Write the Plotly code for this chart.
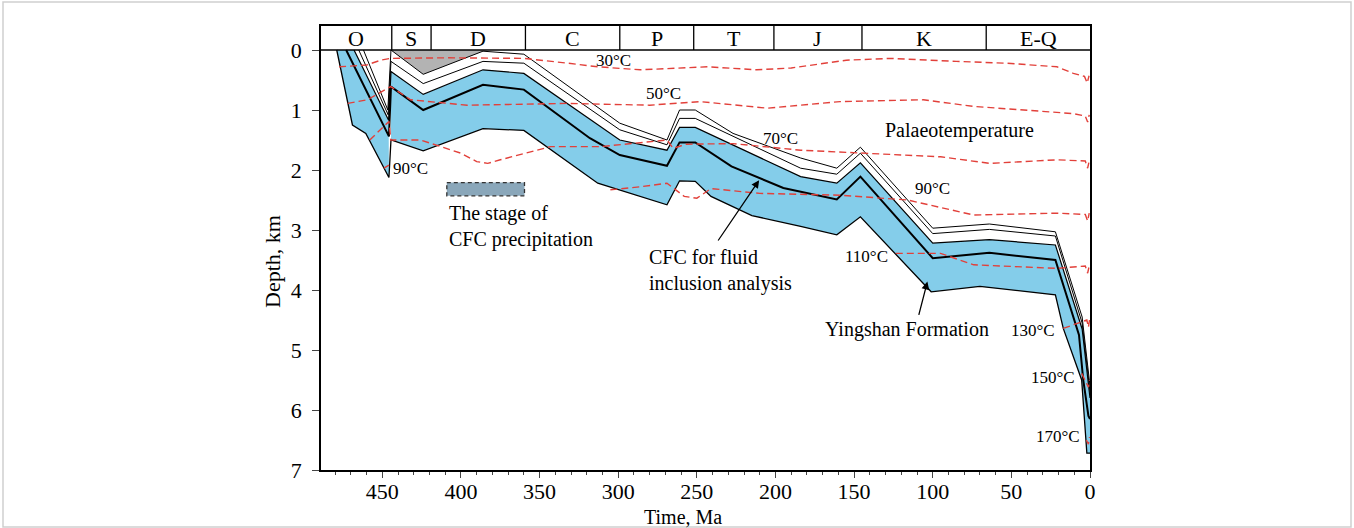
import plotly.graph_objects as go

# ---- geological periods (boundary ages, Ma) ----
period_names = ["O", "S", "D", "C", "P", "T", "J", "K", "E-Q"]
period_bounds = [489, 444, 419, 359, 299, 252, 201, 145, 66, 0]

# ---- burial-history horizons: age (Ma) / depth (km) ----
# Yingshan Formation base
base_o_age = [479, 469, 460.5, 445.8]
base_o_dep = [0.0, 1.25, 1.39, 2.125]
base_s_age = [444.5, 424, 386, 360, 313, 269, 261, 251, 241, 215, 184, 161, 146, 101, 70, 22, 17, 5.3, 2, 0]
base_s_dep = [1.5, 1.68, 1.31, 1.34, 2.22, 2.58, 2.18, 2.19, 2.44, 2.76, 2.94, 3.08, 2.78, 4.03, 3.94, 4.08, 4.64, 5.5, 6.72, 6.72]

# CFC horizon used for fluid inclusion analysis
cfc_o_age = [473, 445.8]
cfc_o_dep = [0.0, 1.44]
cfc_s_age = [444.5, 424, 386, 360, 318, 299, 269, 261, 251, 228, 195, 161, 146, 100, 64, 22, 7, 4.3, 1, 0]
cfc_s_dep = [0.61, 1.0, 0.58, 0.66, 1.47, 1.75, 1.93, 1.54, 1.54, 1.94, 2.3, 2.49, 2.11, 3.47, 3.38, 3.5, 4.75, 5.5, 6.1, 6.15]

# Yingshan Formation top
top_o_age = [468, 446]
top_o_dep = [0.0, 1.17]
top_s_age = [444.5, 424, 386, 360, 299, 269, 261, 251, 184, 161, 146, 100, 64, 22, 5, 0]
top_s_dep = [0.36, 0.74, 0.33, 0.39, 1.5, 1.67, 1.29, 1.29, 2.11, 2.22, 1.88, 3.22, 3.16, 3.25, 4.65, 5.8]

# overlying horizons
h4_o_age = [465, 446.3]
h4_o_dep = [0.0, 1.08]
h4_s_age = [444.5, 424, 386, 360, 299, 269, 261, 251, 184, 161, 146, 100, 64, 22, 5, 0]
h4_s_dep = [0.19, 0.56, 0.19, 0.22, 1.33, 1.58, 1.14, 1.14, 1.97, 2.07, 1.72, 3.06, 2.99, 3.1, 4.55, 5.7]

h5_o_age = [462, 446.5]
h5_o_dep = [0.0, 1.0]
h5_s_age = [444.5, 424, 386, 360, 299, 269, 261, 251, 227, 184, 161, 146, 100, 64, 22, 5, 0]
h5_s_dep = [0.0, 0.405, 0.02, 0.07, 1.22, 1.5, 1.0, 1.0, 1.39, 1.8, 1.97, 1.62, 2.97, 2.9, 3.03, 4.45, 5.6]

# eroded section (grey)
eroded_age = [444.5, 424, 386, 383]
eroded_dep = [0.0, 0.405, 0.02, 0.0]

# ---- palaeotemperature isotherms ----
iso_labels = ["30°C", "50°C", "70°C", "90°C", "110°C", "130°C", "150°C", "170°C"]
iso_age = [
    [477.5, 460, 451, 445, 408, 360, 332, 313, 286, 265, 243, 212, 190, 155, 127, 85, 53, 21, 10.6, 3.5, 1.8, 0.6],
    [472, 459.6, 444.7, 432, 396, 362, 332, 280, 248, 205, 159, 106, 74, 10.6, 3, 1.5, 0.5],
    [458, 445.8, 444.6, 425.7, 400, 390, 383, 375, 343, 311, 269, 265, 257, 227, 184, 95, 63.5, 21, 3, 1.5, 0.5],
    [449, 445.8, None, 305, 286, 269, 258, 250, 241, 210, 159, 116, 74, 21, 3, 1.5, 0.5],
    [123.5, 95, 74, 21, 3, 1.5, 0.5],
    [17, 5, 2, 1, 0.3],
    [5.3, 2, 1, 0.3],
    [2.3, 1, 0.3],
]
iso_dep = [
    [0.28, 0.25, 0.17, 0.14, 0.13, 0.14, 0.22, 0.28, 0.33, 0.31, 0.28, 0.33, 0.3, 0.17, 0.14, 0.19, 0.22, 0.28, 0.39, 0.44, 0.55, 0.43],
    [0.89, 0.83, 0.61, 0.83, 0.92, 0.9, 0.89, 0.92, 0.86, 0.97, 0.86, 0.83, 0.94, 1.06, 1.1, 1.2, 1.08],
    [1.5, 1.19, 1.5, 1.5, 1.72, 1.86, 1.89, 1.83, 1.61, 1.61, 1.5, 1.64, 1.57, 1.56, 1.67, 1.78, 1.89, 1.83, 1.85, 1.97, 1.85],
    [1.97, 1.92, None, 2.33, 2.28, 2.22, 2.44, 2.47, 2.31, 2.39, 2.42, 2.5, 2.75, 2.72, 2.74, 2.85, 2.72],
    [3.39, 3.39, 3.58, 3.64, 3.6, 3.72, 3.6],
    [4.64, 4.53, 4.5, 4.62, 4.5],
    [5.39, 5.55, 5.62, 5.5],
    [6.5, 6.57, 6.45],
]
# label positions (age, depth)
iso_lab_age = [303, 271.3, 197, 100.4, 142.3, 36.5, 23.5, 20.6]
iso_lab_dep = [0.18, 0.72, 1.48, 2.3, 3.44, 4.68, 5.46, 6.44]

# stage of CFC precipitation (age span, Ma)
cfc_stage_age = [409, 359.6]
cfc_stage_dep = [2.21, 2.43]

BLUE = "#84cdea"
GREY = "#b3b3b3"
RED = "#e2403a"
FONT = "Liberation Serif"

fig = go.Figure()


def poly(upper_a, upper_d, lower_a, lower_d, color):
    fig.add_trace(go.Scatter(
        x=list(upper_a) + list(lower_a)[::-1],
        y=list(upper_d) + list(lower_d)[::-1],
        fill="toself", fillcolor=color, mode="none",
        hoverinfo="skip", showlegend=False))


def line(a, d, width, color="black", dash=None):
    fig.add_trace(go.Scatter(
        x=a, y=d, mode="lines",
        line=dict(color=color, width=width, dash=dash),
        hoverinfo="skip", showlegend=False, connectgaps=False))


# fills
poly(eroded_age, eroded_dep, [], [], GREY)
poly(base_o_age, base_o_dep, top_o_age, top_o_dep, BLUE)
poly(base_s_age, base_s_dep, top_s_age, top_s_dep, BLUE)

# horizon lines (Ordovician part joined to the post-uplift part)
line(h5_o_age + h5_s_age, h5_o_dep + h5_s_dep, 1.0)
line(h4_o_age + h4_s_age, h4_o_dep + h4_s_dep, 1.0)
line(top_o_age + top_s_age, top_o_dep + top_s_dep, 1.2)
line(base_o_age + base_s_age, base_o_dep + base_s_dep, 1.3)
line(cfc_o_age + cfc_s_age, cfc_o_dep + cfc_s_dep, 2.0)

# isotherms
for a, d in zip(iso_age, iso_dep):
    line(a, d, 1.4, RED, "7px,4px")

# period header
fig.add_shape(type="line", x0=period_bounds[0], x1=period_bounds[-1], y0=0, y1=0,
              line=dict(color="black", width=1.5))
for b in period_bounds[1:-1]:
    fig.add_shape(type="line", x0=b, x1=b, y0=-0.4, y1=0, line=dict(color="black", width=1.3))
for name, b0, b1 in zip(period_names, period_bounds[:-1], period_bounds[1:]):
    fig.add_annotation(x=(b0 + b1) / 2, y=-0.2, text=name, showarrow=False,
                       font=dict(family=FONT, size=22, color="black"))

# CFC precipitation stage box
fig.add_shape(type="rect", x0=cfc_stage_age[0], x1=cfc_stage_age[1],
              y0=cfc_stage_dep[0], y1=cfc_stage_dep[1],
              fillcolor="#8aa7ba", line=dict(color="#333333", width=1.3, dash="4px,3px"))

# isotherm labels
lf = dict(family=FONT, size=17, color="black")
for t, a, d in zip(iso_labels, iso_lab_age, iso_lab_dep):
    fig.add_annotation(x=a, y=d, text=t, showarrow=False, font=lf)
fig.add_annotation(x=432, y=1.98, text="90°C", showarrow=False, font=lf)

# descriptive text
tf = dict(family=FONT, size=20, color="black")
text_blocks = [
    ("Palaeotemperature", 83.2, 1.34, "center"),
    ("The stage of<br>CFC precipitation", 409.1, 2.94, "left"),
    ("CFC for fluid<br>inclusion analysis", 281.5, 3.67, "left"),
    ("Yingshan Formation", 116.5, 4.66, "center"),
]
for t, a, d, anchor in text_blocks:
    fig.add_annotation(x=a, y=d, text=t, showarrow=False, font=tf,
                       xanchor=anchor, yanchor="middle", align="left")

# pointer arrows
fig.add_annotation(x=210.4, y=2.17, ax=237.1, ay=3.2, axref="x", ayref="y",
                   showarrow=True, arrowhead=2, arrowsize=1.2, arrowwidth=1.3, arrowcolor="black", text="")
fig.add_annotation(x=103.4, y=3.86, ax=109.1, ay=4.44, axref="x", ayref="y",
                   showarrow=True, arrowhead=2, arrowsize=1.2, arrowwidth=1.3, arrowcolor="black", text="")

# axis titles
fig.add_annotation(xref="paper", yref="paper", x=(683 - 321) / 769, y=(470 - 516.5) / 444,
                   xanchor="center", yanchor="middle", borderpad=0,
                   text="Time, Ma", showarrow=False, font=dict(family=FONT, size=20))
fig.add_annotation(xref="paper", yref="paper", x=(272 - 321) / 769, y=(470 - 262) / 444,
                   xanchor="center", yanchor="middle",
                   text="Depth, km", showarrow=False, textangle=-90, font=dict(family=FONT, size=22))

# outer frame
fig.add_shape(type="rect", xref="paper", yref="paper",
              x0=(3 - 321) / 769, x1=(1351 - 321) / 769,
              y0=(470 - 527) / 444, y1=(470 - 2) / 444,
              line=dict(color="#cfcfcf", width=1.5))

fig.update_layout(
    width=1354, height=528,
    margin=dict(l=321, r=264, t=26, b=58),
    paper_bgcolor="white", plot_bgcolor="white",
    font=dict(family=FONT, size=22, color="black"),
    xaxis=dict(range=[489, 0], tick0=0, dtick=50, ticks="outside", ticklen=6,
               tickwidth=1.3, showline=True, linecolor="black", linewidth=1.5,
               mirror=True, showgrid=False, zeroline=False, ticklabelstandoff=-5,
               tickfont=dict(family=FONT, size=22),
               minor=dict(dtick=10, ticks="outside", ticklen=3, tickwidth=1.2, showgrid=False)),
    yaxis=dict(range=[7, -0.4], tickvals=[0, 1, 2, 3, 4, 5, 6, 7], ticks="outside", ticklen=7,
               tickwidth=1.3, showline=True, linecolor="black", linewidth=1.5,
               mirror=True, showgrid=False, zeroline=False, ticklabelstandoff=6,
               tickfont=dict(family=FONT, size=22)),
)

fig.write_html("out.html")
